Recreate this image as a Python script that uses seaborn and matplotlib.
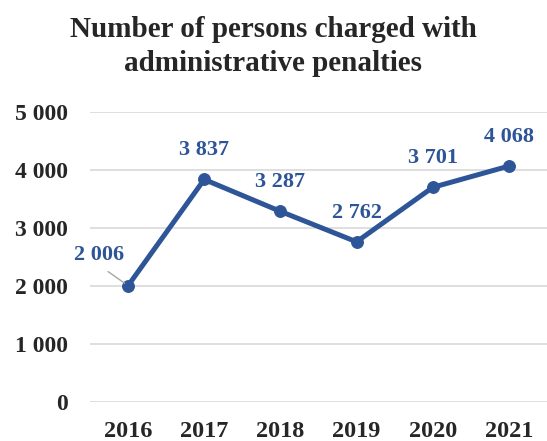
import matplotlib
matplotlib.use("Agg")
import matplotlib.pyplot as plt
import seaborn as sns
import pandas as pd

years = ["2016", "2017", "2018", "2019", "2020", "2021"]
persons = [2006, 3837, 3287, 2762, 3701, 4068]
y_ticks = [0, 1000, 2000, 3000, 4000, 5000]

sns.set_theme(style="white")
plt.rcParams["font.family"] = ["Liberation Serif", "DejaVu Serif"]

blue = "#2E5597"
df = pd.DataFrame({"year": years, "persons": persons})

fig = plt.figure(figsize=(5.47, 4.41), dpi=100)
ax = fig.add_axes([0.1645, 0.0884, 0.8355, 0.6576])

sns.lineplot(data=df, x="year", y="persons", ax=ax, color=blue, linewidth=3.6,
             marker="o", markersize=8.5, markeredgecolor=blue, sort=False)

ax.set_xlim(-0.5, 5.5)
ax.set_ylim(0, 5000)
ax.set_yticks(y_ticks)
ax.set_yticklabels([f"{v:,}".replace(",", " ") for v in y_ticks])
ax.yaxis.grid(True, color="#d9d9d9", linewidth=1.2)
ax.xaxis.grid(False)
for s in ax.spines.values():
    s.set_visible(False)
ax.tick_params(axis="y", length=0, pad=16, labelsize=17)
ax.tick_params(axis="x", length=0, pad=14, labelsize=17.5)
for lbl in ax.get_xticklabels() + ax.get_yticklabels():
    lbl.set_fontweight("bold")
ax.set_xlabel("")
ax.set_ylabel("")

# value labels
for i, v in enumerate(persons):
    txt = f"{v:,}".replace(",", " ")
    if i == 0:
        ax.annotate(txt, xy=(i, v), xytext=(-21, 22), textcoords="offset points",
                    ha="center", va="center", fontsize=16, fontweight="bold", color=blue,
                    arrowprops=dict(arrowstyle="-", color="#a6a6a6", lw=1,
                                    relpos=(0.5, 0.0), shrinkA=4, shrinkB=3))
    else:
        ax.annotate(txt, xy=(i, v), xytext=(0, 21), textcoords="offset points",
                    ha="center", va="center", fontsize=16, fontweight="bold", color=blue)

fig.text(0.5, 0.895, "Number of persons charged with\nadministrative penalties",
         ha="center", va="center", fontsize=21, fontweight="bold", linespacing=1.32)

fig.savefig("out.png", dpi=100)
